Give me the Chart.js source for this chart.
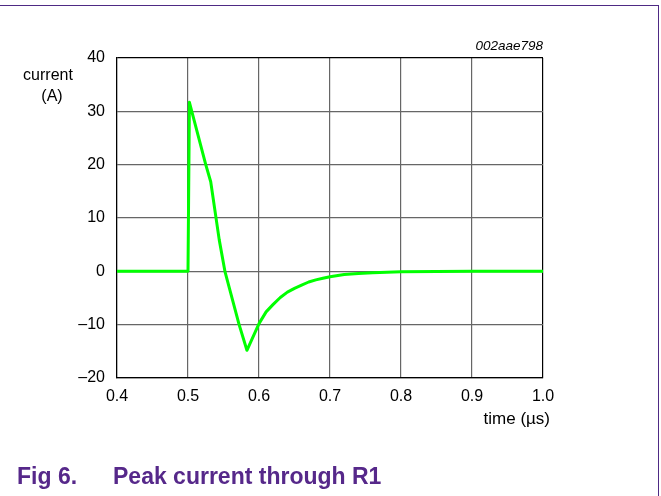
<!DOCTYPE html>
<html>
<head>
<meta charset="utf-8">
<script src="https://cdn.jsdelivr.net/npm/chart.js@4.4.1/dist/chart.umd.min.js"></script>
<style>
    body { margin: 0; background: #fff; }
    #wrap { position: relative; width: 661px; height: 496px; overflow: hidden; }
    #frame {
        position: absolute; left: -2px; top: 5px; width: 661px; height: 500px;
        border-top: 1.5px solid #4e2a84; border-right: 1.5px solid #4e2a84;
        box-sizing: border-box; pointer-events: none;
    }
    #caption {
        position: absolute; left: 17px; top: 463px; line-height: 1;
        font: bold 23px "Liberation Sans", Arial, sans-serif; color: #56288a;
        white-space: nowrap;
    }
    #caption span { position: absolute; left: 96px; top: 0; }
</style>
</head>
<body>
<div id="wrap">
    <canvas id="grafico" width="661" height="496"></canvas>
    <div id="frame"></div>
    <div id="caption">Fig 6.<span>Peak current through R1</span></div>
</div>
<script>
// time (µs) and current (A)
const tiempo = [0.4, 0.5, 0.502, 0.525, 0.532, 0.544, 0.552, 0.572, 0.583, 0.600,
    0.610, 0.620, 0.630, 0.640, 0.650, 0.660, 0.670, 0.680, 0.690, 0.700,
    0.720, 0.740, 0.760, 0.800, 0.850, 0.900, 1.0];
const corriente = [0, 0, 31.7, 20, 16.8, 5.9, 0, -10, -14.8, -9.8,
    -7.6, -6.2, -4.9, -3.9, -3.2, -2.6, -2.0, -1.6, -1.3, -1.0,
    -0.6, -0.4, -0.25, -0.1, -0.05, 0, 0];

const xTicks = ['0.4', '0.5', '0.6', '0.7', '0.8', '0.9', '1.0'];
const yTicks = ['\u201320', '\u201310', '0', '10', '20', '30', '40'];

const fuente = '"Liberation Sans", Arial, sans-serif';

const textos = {
    id: 'textos',
    afterDraw(chart) {
        const c = chart.ctx;
        const area = chart.chartArea;
        c.save();
        c.fillStyle = '#000';
        c.textBaseline = 'middle';
        c.font = '16px ' + fuente;
        c.textAlign = 'center';
        c.fillText('current', 48, 76);
        c.fillText('(A)', 52, 97);
        c.textAlign = 'right';
        c.font = '17px ' + fuente;
        c.fillText('time (\u00b5s)', area.right + 7, 419);
        c.font = 'italic 13.5px ' + fuente;
        c.fillText('002aae798', area.right, 46);
        c.restore();
    }
};

document.addEventListener('DOMContentLoaded', function () {
    const ctx = document.getElementById('grafico');
    new Chart(ctx.getContext('2d'), {
        type: 'line',
        data: {
            datasets: [{
                data: tiempo.map((t, i) => ({ x: t, y: corriente[i] })),
                borderColor: '#00ff00',
                borderWidth: 3,
                borderJoinStyle: 'round',
                borderCapStyle: 'round',
                pointRadius: 0,
                tension: 0,
                fill: false
            }]
        },
        options: {
            responsive: false,
            animation: false,
            devicePixelRatio: 1,
            layout: { padding: { left: 0, right: 118, top: 58, bottom: 78 } },
            scales: {
                x: {
                    type: 'linear',
                    min: 0.4,
                    max: 1.0,
                    afterFit: scale => { scale.height = 40; },
                    afterBuildTicks: scale => {
                        scale.ticks = xTicks.map(v => ({ value: parseFloat(v) }));
                    },
                    grid: {
                        color: c => (c.tick && c.tick.value >= 1.0) ? '#000' : '#666',
                        lineWidth: 1.2,
                        drawTicks: false
                    },
                    border: { color: '#000', width: 1.2 },
                    ticks: {
                        padding: 9,
                        color: '#000',
                        font: { family: fuente, size: 16 },
                        callback: (value, i) => xTicks[i]
                    }
                },
                y: {
                    min: -20,
                    max: 40,
                    afterFit: scale => { scale.width = 117; },
                    afterBuildTicks: scale => {
                        scale.ticks = yTicks.map((v, i) => ({ value: -20 + i * 10 }));
                    },
                    grid: {
                        color: c => (c.tick && c.tick.value >= 40) ? '#000' : '#666',
                        lineWidth: 1.2,
                        drawTicks: false
                    },
                    border: { color: '#000', width: 1.2 },
                    ticks: {
                        padding: 12,
                        color: '#000',
                        font: { family: fuente, size: 16 },
                        callback: (value, i) => yTicks[i]
                    }
                }
            },
            plugins: {
                legend: { display: false },
                tooltip: { enabled: false }
            }
        },
        plugins: [textos]
    });
});
</script>
</body>
</html>
